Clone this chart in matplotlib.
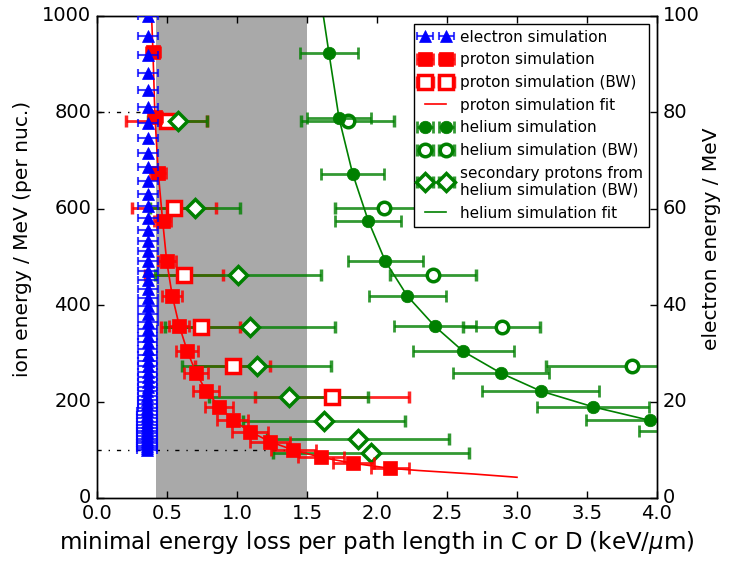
import matplotlib
matplotlib.use("Agg")
import matplotlib.pyplot as plt
from matplotlib.colors import to_rgba

plt.style.use('classic')
plt.rcParams['figure.facecolor'] = 'white'
plt.rcParams['savefig.facecolor'] = 'white'
plt.rcParams['font.family'] = ['DejaVu Sans']
plt.rcParams['mathtext.fontset'] = 'dejavusans'

# ---------------- data ----------------
# electron simulation (right axis, MeV)
e_energy = [10.00, 10.43, 10.87, 11.34, 11.82, 12.33, 12.86, 13.41, 13.98, 14.58,
            15.20, 15.85, 16.53, 17.23, 17.97, 18.74, 19.54, 20.38, 21.25, 22.15,
            23.10, 24.09, 25.12, 26.19, 27.31, 28.48, 29.70, 30.97, 32.29, 33.67,
            35.11, 36.61, 38.18, 39.81, 41.51, 43.29, 45.14, 47.07, 49.08, 51.18,
            53.37, 55.65, 58.03, 60.51, 63.10, 65.79, 68.61, 71.54, 74.60, 77.79,
            81.11, 84.58, 88.20, 91.97, 95.90, 100.0]
e_loss = [0.356, 0.356, 0.356, 0.357, 0.357, 0.357, 0.357, 0.358, 0.358, 0.358,
          0.358, 0.359, 0.359, 0.359, 0.359, 0.360, 0.360, 0.360, 0.360, 0.360,
          0.361, 0.361, 0.361, 0.361, 0.361, 0.362, 0.362, 0.362, 0.362, 0.362,
          0.362, 0.363, 0.363, 0.363, 0.363, 0.363, 0.363, 0.364, 0.364, 0.364,
          0.364, 0.364, 0.364, 0.365, 0.365, 0.365, 0.365, 0.365, 0.365, 0.365,
          0.366, 0.366, 0.366, 0.366, 0.366, 0.366]
e_err = [0.07] * 56

# proton simulation
p_energy = [925, 791, 674, 575, 491, 419, 357, 305, 260, 222.6, 189.4, 161.8,
            137.6, 116.8, 99.6, 84.4, 72, 61.6]
p_loss = [0.40, 0.414, 0.438, 0.469, 0.498, 0.538, 0.588, 0.645, 0.707, 0.779,
          0.874, 0.969, 1.095, 1.236, 1.402, 1.60, 1.831, 2.093]
p_err = [0.05, 0.05, 0.057, 0.06, 0.065, 0.07, 0.07, 0.077, 0.086, 0.09, 0.10,
         0.11, 0.13, 0.14, 0.16, 0.165, 0.145, 0.135]

# proton simulation (BW)
pbw_energy = [783, 602, 462, 355, 273, 209]
pbw_loss = [0.498, 0.552, 0.621, 0.74, 0.969, 1.681]
pbw_err = [0.29, 0.30, 0.28, 0.28, 0.27, 0.55]

# proton simulation fit
pfit_loss = [0.39, 0.40, 0.414, 0.438, 0.469, 0.498, 0.538, 0.588, 0.645, 0.707,
             0.779, 0.874, 0.969, 1.095, 1.236, 1.402, 1.60, 1.831, 2.093, 2.30,
             2.69, 3.0]
pfit_energy = [1000, 925, 791, 674, 575, 491, 419, 357, 305, 260, 222.6, 189.4,
               161.8, 137.6, 116.8, 99.6, 84.4, 72, 61.6, 57, 49.8, 43]

# helium simulation
he_energy = [923, 788, 673, 575, 491, 419, 356, 304, 259, 222, 189, 161, 138]
he_loss = [1.657, 1.729, 1.826, 1.938, 2.06, 2.217, 2.414, 2.617, 2.886, 3.169,
           3.545, 3.95, 4.40]
he_err = [0.21, 0.23, 0.225, 0.235, 0.27, 0.275, 0.29, 0.36, 0.34, 0.42, 0.40,
          0.46, 0.53]

# helium simulation (BW)
hebw_energy = [782, 602, 463, 355, 273]
hebw_loss = [1.79, 2.05, 2.40, 2.89, 3.82]
hebw_err = [0.33, 0.35, 0.31, 0.276, 0.61]

# secondary protons from helium simulation (BW)
sec_energy = [783, 602, 462, 355, 273, 209, 160, 123, 94]
sec_loss = [0.576, 0.702, 1.007, 1.093, 1.14, 1.369, 1.621, 1.867, 1.955]
sec_err = [0.21, 0.32, 0.59, 0.61, 0.53, 0.57, 0.58, 0.65, 0.70]

# helium simulation fit
hefit_loss = [1.617, 1.657, 1.729, 1.826, 1.938, 2.06, 2.217, 2.414, 2.617, 2.886,
              3.169, 3.545, 3.95, 4.0]
hefit_energy = [1000, 923, 788, 673, 575, 491, 419, 356, 304, 259, 222, 189, 161, 158]

# shaded band and marker lines
band = (0.42, 1.5)
hline_energy = [800, 100]
hline_end = [0.414, 1.402]

# ---------------- plot ----------------
fig = plt.figure(figsize=(7.33, 5.61), dpi=100)
ax = fig.add_axes([0.1323, 0.1123, 0.7640, 0.8592])

ax.axvspan(band[0], band[1], color='#a9a9a9', zorder=0, lw=0)
for yv, xe in zip(hline_energy, hline_end):
    ax.plot([0, xe], [yv, yv], color='black', ls='-.', lw=1, zorder=1)

red = 'red'
green = 'green'
ered = to_rgba(red, 0.85)
egreen = to_rgba(green, 0.8)
ebkw = dict(elinewidth=2, capsize=4, capthick=2, ls='none')

h_p = ax.errorbar(p_loss, p_energy, xerr=p_err, fmt='s', color=red, mec=red,
                  ms=9.5, ecolor=ered, zorder=4, label='proton simulation', **ebkw)
h_pbw = ax.errorbar(pbw_loss, pbw_energy, xerr=pbw_err, fmt='s', color=red,
                    mfc='white', mec=red, mew=2.5, ms=9.5, ecolor=ered, zorder=3,
                    label='proton simulation (BW)', **ebkw)
h_pfit, = ax.plot(pfit_loss, pfit_energy, color=red, lw=1.2, zorder=5,
                  label='proton simulation fit')
h_he = ax.errorbar(he_loss, he_energy, xerr=he_err, fmt='o', color=green, mec=green,
                   ms=9, ecolor=egreen, zorder=4, label='helium simulation', **ebkw)
h_hebw = ax.errorbar(hebw_loss, hebw_energy, xerr=hebw_err, fmt='o', color=green,
                     mfc='white', mec=green, mew=2.5, ms=9, ecolor=egreen, zorder=3,
                     label='helium simulation (BW)', **ebkw)
h_sec = ax.errorbar(sec_loss, sec_energy, xerr=sec_err, fmt='D', color=green,
                    mfc='white', mec=green, mew=2.5, ms=9.5, ecolor=egreen, zorder=3,
                    label='secondary protons from\nhelium simulation (BW)', **ebkw)
h_hefit, = ax.plot(hefit_loss, hefit_energy, color=green, lw=1.2, zorder=5,
                   label='helium simulation fit')

ax.set_xlim(0, 4.0)
ax.set_ylim(0, 1000)
ax.set_xticks([0.0, 0.5, 1.0, 1.5, 2.0, 2.5, 3.0, 3.5, 4.0])
ax.set_xticklabels(['0.0', '0.5', '1.0', '1.5', '2.0', '2.5', '3.0', '3.5', '4.0'])
ax.set_yticks([0, 200, 400, 600, 800, 1000])
ax.tick_params(labelsize=14, direction='in', length=5, width=1, top=True)
ax.set_xlabel(r'minimal energy loss per path length in C or D (keV/$\mu$m)', fontsize=16.5)
ax.set_ylabel('ion energy / MeV (per nuc.)', fontsize=14.5)
ax.yaxis.set_label_coords(-0.116, 0.538)

ax2 = ax.twinx()
h_e = ax2.errorbar(e_loss, e_energy, xerr=e_err, fmt='^', color='blue', mec='blue',
                   ms=9, ecolor=to_rgba('blue', 0.75), zorder=3,
                   label='electron simulation', elinewidth=1.5, capsize=3,
                   capthick=1.5, ls='none')
ax2.set_ylim(0, 100)
ax2.set_yticks([0, 20, 40, 60, 80, 100])
ax2.tick_params(labelsize=14, direction='in', length=5, width=1)
ax2.set_ylabel('electron energy / MeV', fontsize=14.5)
ax2.yaxis.set_label_coords(1.08, 0.538)
ax2.set_xlim(0, 4.0)

handles = [h_e, h_p, h_pbw, h_pfit, h_he, h_hebw, h_sec, h_hefit]
labels = [h.get_label() for h in handles]
leg = ax2.legend(handles, labels, loc='upper right', numpoints=2, fontsize=11,
                 frameon=True, fancybox=False, borderaxespad=0.5,
                 handlelength=2.0, labelspacing=0.5, handletextpad=0.6)
leg.get_frame().set_edgecolor('black')
leg.get_frame().set_linewidth(1)

fig.savefig('out.png', dpi=100)
